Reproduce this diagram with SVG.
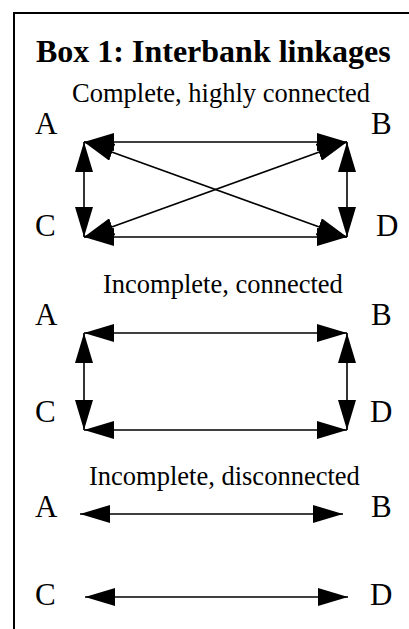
<svg xmlns="http://www.w3.org/2000/svg" width="409" height="629" viewBox="0 0 409 629">
<style>
.t{font-family:"Liberation Serif","Times New Roman",serif;fill:#000}
.title{font-size:32px;font-weight:bold}
.sub{font-size:26.5px}
.lbl{font-size:31px}
.c{stroke:#000;stroke-width:1.6;fill:none;marker-start:url(#ah);marker-end:url(#ah)}
</style>
<defs>
<marker id="ah" viewBox="0 0 30 18" refX="30" refY="9" markerWidth="30" markerHeight="18" markerUnits="userSpaceOnUse" orient="auto-start-reverse">
<path d="M0,0 L30,9 L0,18 z" fill="#000"/>
</marker>
</defs>
<rect width="409" height="629" fill="#fff"/>
<path d="M14,629 V13 H409" fill="none" stroke="#000" stroke-width="2"/>
<text class="t title" x="36" y="62">Box 1: Interbank linkages</text>

<g id="s1">
<text class="t sub" x="72" y="102">Complete, highly connected</text>
<g id="s1-A"><text class="t lbl" x="35" y="134">A</text></g>
<g id="s1-B"><text class="t lbl" x="371" y="134">B</text></g>
<g id="s1-C"><text class="t lbl" x="35" y="236">C</text></g>
<g id="s1-D"><text class="t lbl" x="376" y="236">D</text></g>
</g>
<g id="s2">
<text class="t sub" x="103" y="293">Incomplete, connected</text>
<g id="s2-A"><text class="t lbl" x="35" y="325">A</text></g>
<g id="s2-B"><text class="t lbl" x="371" y="325">B</text></g>
<g id="s2-C"><text class="t lbl" x="35" y="422">C</text></g>
<g id="s2-D"><text class="t lbl" x="370" y="422">D</text></g>
</g>
<g id="s3">
<text class="t sub" x="89" y="485">Incomplete, disconnected</text>
<g id="s3-A"><text class="t lbl" x="35" y="517">A</text></g>
<g id="s3-B"><text class="t lbl" x="371" y="517">B</text></g>
<g id="s3-C"><text class="t lbl" x="35" y="605">C</text></g>
<g id="s3-D"><text class="t lbl" x="370" y="605">D</text></g>
</g>

<g id="connectors">
<line class="c" x1="84" y1="142" x2="347" y2="142"/>
<line class="c" x1="84" y1="237" x2="347" y2="237"/>
<line class="c" x1="84" y1="142" x2="84" y2="237"/>
<line class="c" x1="347" y1="142" x2="347" y2="237"/>
<line class="c" x1="84" y1="142" x2="347" y2="237"/>
<line class="c" x1="347" y1="142" x2="84" y2="237"/>

<line class="c" x1="84" y1="333" x2="347" y2="333"/>
<line class="c" x1="84" y1="430" x2="347" y2="430"/>
<line class="c" x1="84" y1="333" x2="84" y2="430"/>
<line class="c" x1="347" y1="333" x2="347" y2="430"/>

<line class="c" x1="80" y1="514" x2="343" y2="514"/>
<line class="c" x1="85" y1="597" x2="348" y2="597"/>
</g>
</svg>
